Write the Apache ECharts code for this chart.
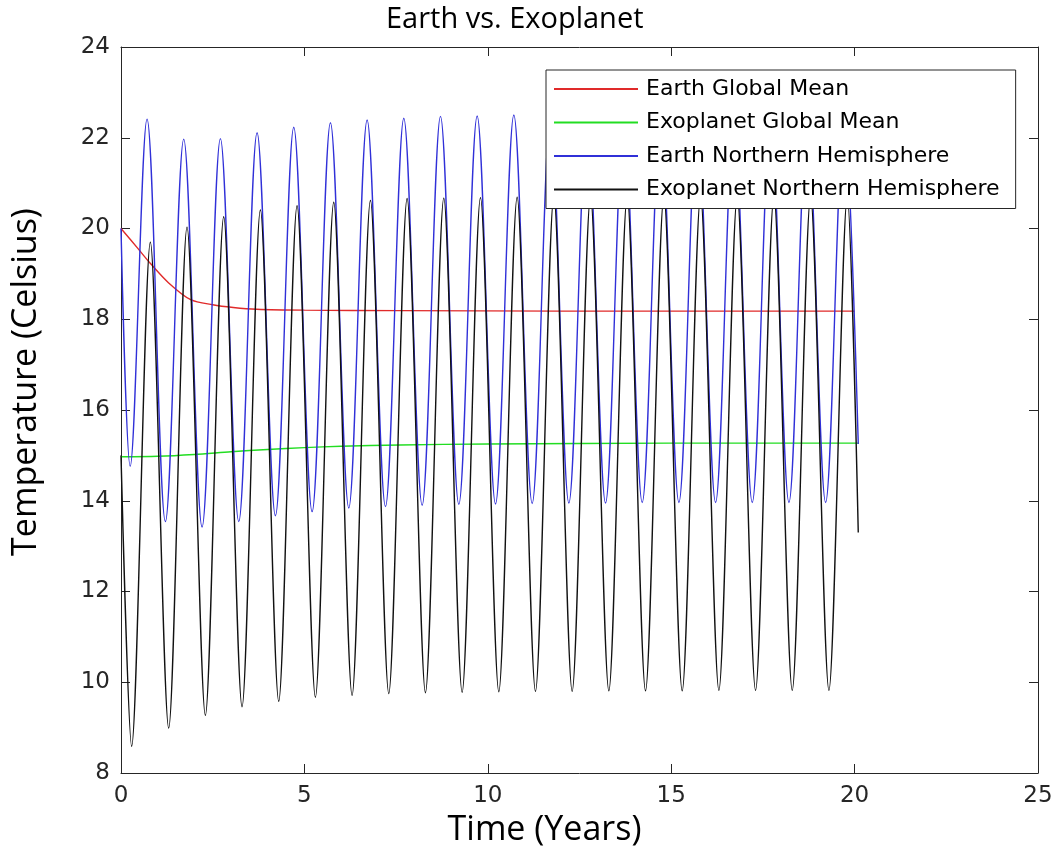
<!DOCTYPE html>
<html>
<head>
<meta charset="utf-8">
<script src="https://cdn.jsdelivr.net/npm/echarts@6/dist/echarts.min.js"></script>
<style>
  html, body { margin: 0; padding: 0; background: #ffffff; }
  #chart { width: 1060px; height: 856px; }
</style>
</head>
<body>
<div id="chart"></div>
<script>
// ---- Data ----
const seriesNames = ['Earth Global Mean', 'Exoplanet Global Mean', 'Earth Northern Hemisphere', 'Exoplanet Northern Hemisphere'];

const xTicks = [0, 5, 10, 15, 20, 25];
const yTicks = [8, 10, 12, 14, 16, 18, 20, 22, 24];

// Earth Global Mean (red)
const earthMeanTime = [0, 0.47, 0.79, 1.3, 1.9, 2.5, 3.06, 3.7, 5.0, 7.6, 12.0, 20.0];
const earthMeanTemp = [20.0, 19.55, 19.24, 18.8, 18.43, 18.32, 18.26, 18.22, 18.2, 18.19, 18.18, 18.18];

// Exoplanet Global Mean (green)
const exoMeanTime = [0, 1.0, 2.0, 3.0, 4.0, 5.0, 6.0, 7.6, 10.0, 15.0, 20.1];
const exoMeanTemp = [14.97, 14.98, 15.02, 15.08, 15.13, 15.17, 15.2, 15.23, 15.25, 15.27, 15.27];

// Earth Northern Hemisphere (blue): start, peaks and troughs, end
const earthNHTime = [0, 0.25,
  0.71, 1.21, 1.71, 2.21, 2.71, 3.21, 3.71, 4.21, 4.71, 5.21,
  5.71, 6.21, 6.71, 7.21, 7.71, 8.21, 8.71, 9.21, 9.71, 10.21,
  10.71, 11.21, 11.71, 12.21, 12.71, 13.21, 13.71, 14.21, 14.71, 15.21,
  15.71, 16.21, 16.71, 17.21, 17.71, 18.21, 18.71, 19.21, 19.71, 20.1];
const earthNHTemp = [20.0, 14.76,
  22.41, 13.54, 21.97, 13.42, 21.98, 13.54, 22.11, 13.67, 22.23, 13.76,
  22.33, 13.84, 22.39, 13.87, 22.43, 13.9, 22.47, 13.92, 22.48, 13.93,
  22.5, 13.94, 22.5, 13.95, 22.5, 13.95, 22.5, 13.96, 22.5, 13.96,
  22.5, 13.96, 22.5, 13.96, 22.5, 13.96, 22.5, 13.96, 22.5, 15.25];

// Exoplanet Northern Hemisphere (black): start, troughs and peaks, end
const exoNHTime = [0, 0.29,
  0.8, 1.3, 1.8, 2.3, 2.8, 3.3, 3.8, 4.3, 4.8, 5.3,
  5.8, 6.3, 6.8, 7.3, 7.8, 8.3, 8.8, 9.3, 9.8, 10.3,
  10.8, 11.3, 11.8, 12.3, 12.8, 13.3, 13.8, 14.3, 14.8, 15.3,
  15.8, 16.3, 16.8, 17.3, 17.8, 18.3, 18.8, 19.3, 19.8, 20.1];
const exoNHTemp = [15.0, 8.59,
  19.7, 8.99, 20.03, 9.27, 20.26, 9.46, 20.41, 9.58, 20.5, 9.67,
  20.58, 9.71, 20.62, 9.75, 20.66, 9.77, 20.67, 9.78, 20.68, 9.79,
  20.69, 9.8, 20.7, 9.8, 20.7, 9.81, 20.7, 9.81, 20.7, 9.81,
  20.7, 9.82, 20.7, 9.82, 20.7, 9.82, 20.7, 9.82, 20.7, 13.3];

// ---- Chart ----
const pairs = (t, v) => t.map((x, i) => [x, v[i]]);
const axisColor = '#262626';
const tickFont = { fontFamily: 'DejaVu Sans', fontSize: 23, color: '#262626' };

const chart = echarts.init(document.getElementById('chart'), null, { renderer: 'canvas' });

const baseX = {
  type: 'value', min: 0, max: 25, interval: 5,
  axisLine: { show: true, onZero: false, lineStyle: { color: axisColor, width: 1 } },
  axisTick: { show: true, inside: true, length: 9, lineStyle: { color: axisColor } },
  splitLine: { show: false }
};
const baseY = {
  type: 'value', min: 8, max: 24, interval: 2,
  axisLine: { show: true, onZero: false, lineStyle: { color: axisColor, width: 1 } },
  axisTick: { show: true, inside: true, length: 9, lineStyle: { color: axisColor } },
  splitLine: { show: false }
};

chart.setOption({
  animation: false,
  backgroundColor: '#ffffff',
  title: {
    text: 'Earth vs. Exoplanet',
    left: 381,
    top: 0,
    textStyle: { fontFamily: 'Open Sans', fontSize: 29, fontWeight: 'normal', color: '#000000' }
  },
  grid: { left: 121, right: 22, top: 47, bottom: 83, containLabel: false },
  legend: {
    data: seriesNames,
    orient: 'vertical',
    left: 546,
    top: 70,
    padding: [6, 16, 6, 8],
    itemGap: 7.5,
    itemWidth: 84,
    itemHeight: 2,
    icon: 'rect',
    backgroundColor: '#ffffff',
    borderColor: axisColor,
    borderWidth: 1,
    textStyle: { fontFamily: 'DejaVu Sans', fontSize: 22, color: '#000000', lineHeight: 26, padding: [0, 0, 0, 3] }
  },
  xAxis: [
    Object.assign({}, baseX, {
      position: 'bottom',
      name: 'Time (Years)', nameLocation: 'middle', nameGap: 40,
      nameTextStyle: { fontFamily: 'Open Sans', fontSize: 34, color: '#000000', padding: [0, 70, 0, 0] },
      axisLabel: Object.assign({ margin: 12, formatter: v => (xTicks.includes(v) ? String(v) : '') }, tickFont)
    }),
    Object.assign({}, baseX, { position: 'top', axisLabel: { show: false } })
  ],
  yAxis: [
    Object.assign({}, baseY, {
      position: 'left',
      name: 'Temperature (Celsius)', nameLocation: 'middle', nameGap: 78,
      nameTextStyle: { fontFamily: 'Open Sans', fontSize: 34, color: '#000000', padding: [0, 0, 0, 56] },
      axisLabel: Object.assign({ margin: 11, formatter: v => (yTicks.includes(v) ? String(v) : '') }, tickFont)
    }),
    Object.assign({}, baseY, { position: 'right', axisLabel: { show: false } })
  ],
  series: [
    {
      name: seriesNames[0], type: 'line', xAxisIndex: 0, yAxisIndex: 0,
      data: pairs(earthMeanTime, earthMeanTemp), showSymbol: false, smooth: 0.3,
      lineStyle: { color: '#e02a2a', width: 1.4 }, itemStyle: { color: '#e02a2a' }
    },
    {
      name: seriesNames[1], type: 'line', xAxisIndex: 0, yAxisIndex: 0,
      data: pairs(exoMeanTime, exoMeanTemp), showSymbol: false, smooth: 0.3,
      lineStyle: { color: '#22dd22', width: 1.4 }, itemStyle: { color: '#22dd22' }
    },
    {
      name: seriesNames[2], type: 'line', xAxisIndex: 0, yAxisIndex: 0,
      data: pairs(earthNHTime, earthNHTemp), showSymbol: false, smooth: 0.35,
      lineStyle: { color: '#3030d8', width: 1.4 }, itemStyle: { color: '#3030d8' }
    },
    {
      name: seriesNames[3], type: 'line', xAxisIndex: 0, yAxisIndex: 0,
      data: pairs(exoNHTime, exoNHTemp), showSymbol: false, smooth: 0.3,
      lineStyle: { color: '#111111', width: 1.4 }, itemStyle: { color: '#111111' }
    }
  ]
});
</script>
</body>
</html>
